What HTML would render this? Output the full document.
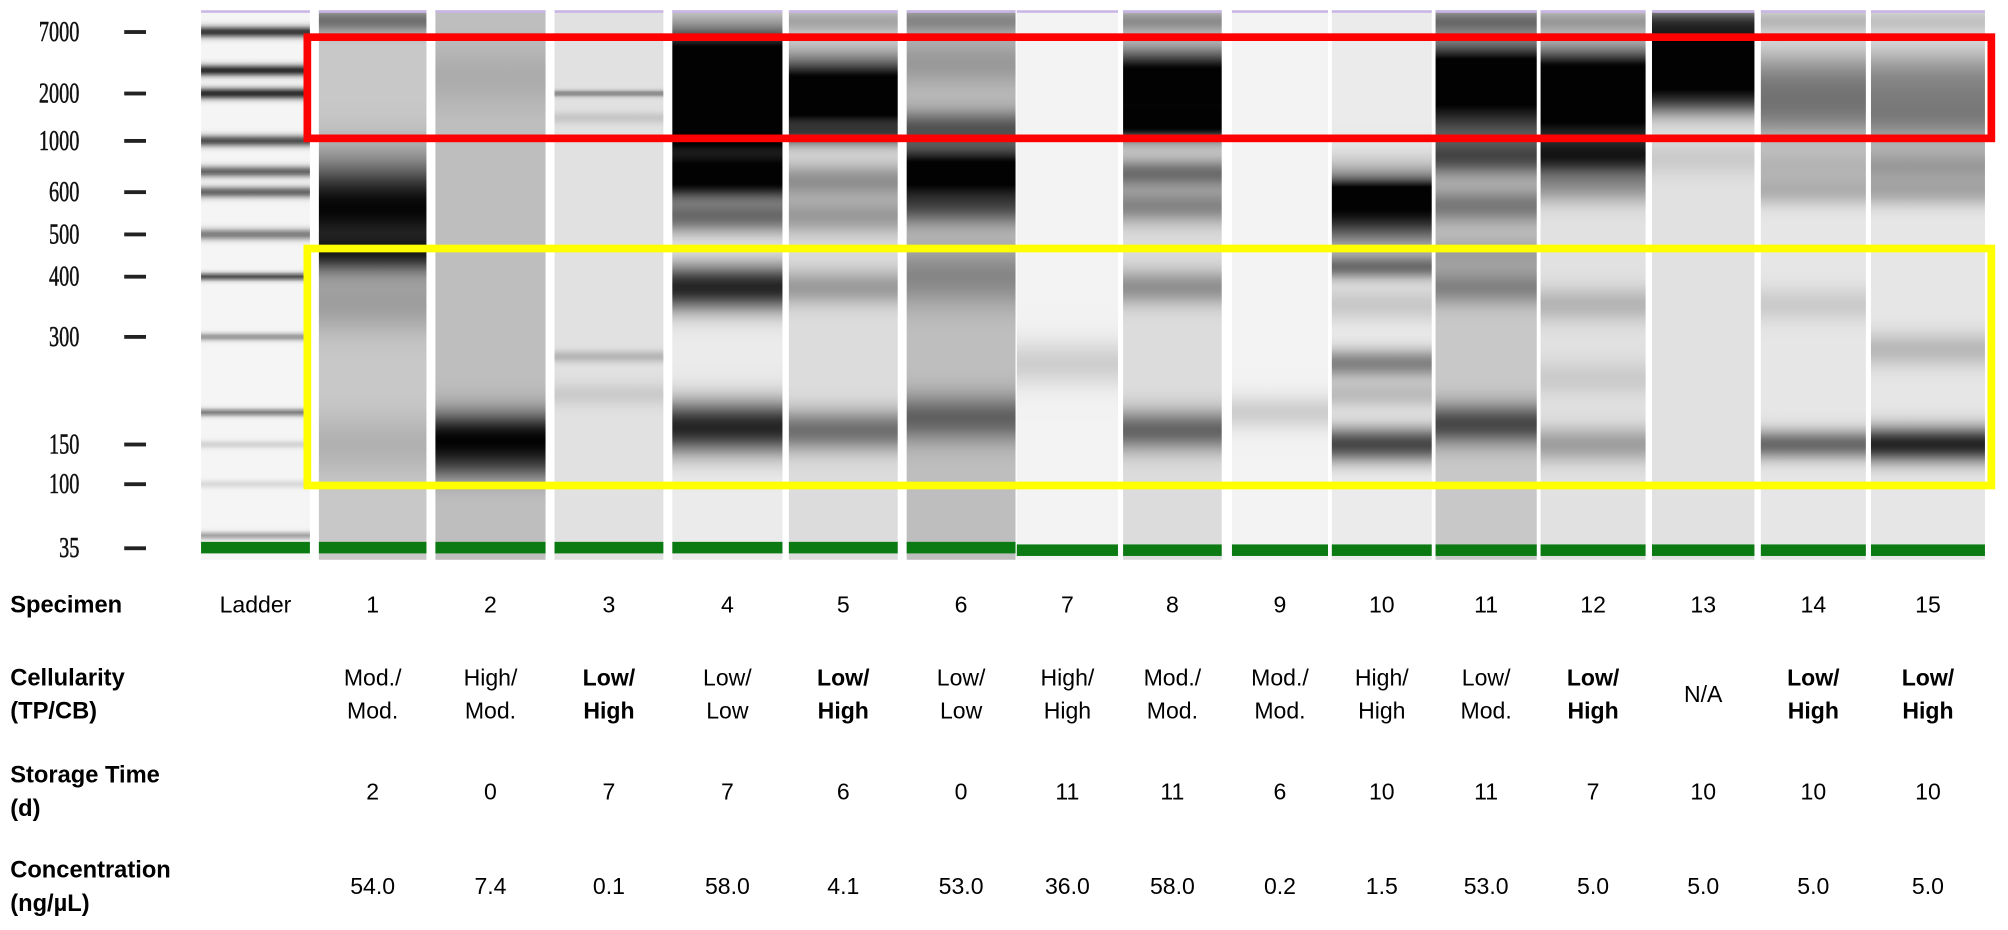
<!DOCTYPE html>
<html><head><meta charset="utf-8"><style>
html,body{margin:0;padding:0;background:#fff;}
svg{display:block;}
.hd{font-family:"Liberation Sans",Arial,sans-serif;font-weight:bold;font-size:18.5px;fill:#000;}
.vl{font-family:"Liberation Sans",Arial,sans-serif;font-size:18px;fill:#000;}
.vb{font-family:"Liberation Sans",Arial,sans-serif;font-size:18px;font-weight:bold;fill:#000;}
.ax{font-family:"Liberation Serif",serif;font-size:22px;fill:#111;stroke:#111;stroke-width:0.4;}
</style></head><body>
<svg id="chart" width="2008" height="930" viewBox="0 0 1568 726" preserveAspectRatio="none" xmlns="http://www.w3.org/2000/svg">
<defs id="defs"></defs>
<g id="axis"></g>
<g id="lanes"></g>
<g id="boxes"></g>
<g id="table"></g>
</svg>
<script>
// ---- data ----
const axisTicks = [7000, 2000, 1000, 600, 500, 400, 300, 150, 100, 35];
const calibBp = [12000, 7000, 3500, 2000, 1000, 800, 600, 500, 400, 300, 200, 150, 100, 50, 35, 20];
const laneNames = ["Ladder","1","2","3","4","5","6","7","8","9","10","11","12","13","14","15"];
const cellTop = ["","Mod./","High/","Low/","Low/","Low/","Low/","High/","Mod./","Mod./","High/","Low/","Low/","N/A","Low/","Low/"];
const cellBot = ["","Mod.","Mod.","High","Low","High","Low","High","Mod.","Mod.","High","Mod.","High","","High","High"];
const cellBold = [0,0,0,1,0,1,0,0,0,0,0,0,1,0,1,1];
const storage = ["","2","0","7","7","6","0","11","11","6","10","11","7","10","10","10"];
const conc = ["","54.0","7.4","0.1","58.0","4.1","53.0","36.0","58.0","0.2","1.5","53.0","5.0","5.0","5.0","5.0"];
const laneBg = [0.0, 0.2, 0.24, 0.1, 0.06, 0.12, 0.24, 0.03, 0.12, 0.03, 0.06, 0.2, 0.1, 0.1, 0.08, 0.08];
// bands: [bp, darkness, spread]
const laneBands = [
 [[7000,.8,3],[3500,.85,3],[2000,.85,3],[1000,.7,3],[800,.6,3],[600,.6,3],[500,.5,3],[400,.7,2],[300,.4,2],[200,.5,2],[150,.15,2],[100,.12,2],[45,.35,2]],
 [[10000,.45,4],[560,.98,16],[450,.5,6],[350,.2,10],[150,.12,10]],
 [[3000,.1,10],[158,.97,9],[120,.3,6]],
 [[2000,.45,1],[1400,.12,2],[270,.2,2],[220,.1,4]],
 [[3800,.98,14],[1950,.98,14],[1200,.98,8],[830,.8,6],[650,.7,5],[540,.55,6],[380,.85,8],[175,.85,9]],
 [[10000,.25,4],[2500,.9,10],[1700,.85,8],[1100,.5,4],[700,.35,6],[540,.3,6],[380,.3,6],[170,.5,7]],
 [[10000,.3,4],[4000,.2,8],[1200,.55,6],[830,.97,7],[650,.5,6],[560,.5,6],[400,.3,10],[190,.5,8]],
 [[260,.15,8]],
 [[10000,.35,4],[3500,.45,8],[2000,.95,12],[1250,.7,5],[780,.5,5],[565,.4,6],[380,.35,6],[170,.55,7]],
 [[200,.15,6]],
 [[600,.4,4],[560,.97,12],[420,.5,4],[350,.15,6],[260,.45,5],[220,.2,5],[150,.7,6]],
 [[10000,.4,4],[3500,.6,8],[1950,.98,16],[880,.5,6],[565,.4,6],[450,.2,6],[380,.35,6],[180,.65,7]],
 [[10000,.3,4],[3000,.9,10],[1500,.97,14],[880,.6,6],[650,.3,6],[350,.2,6],[240,.1,6],[150,.3,6]],
 [[10000,.5,5],[5000,.98,9],[3000,.8,8],[1800,.45,6],[880,.1,6]],
 [[10000,.2,4],[3000,.35,10],[1500,.4,10],[830,.2,7],[600,.2,5],[350,.12,6],[150,.55,5]],
 [[10000,.15,4],[3000,.35,10],[1400,.42,10],[830,.3,6],[600,.25,5],[280,.2,6],[150,.85,6]]
];
// ---- layout ----
const calibY = [12, 25, 55, 73, 110, 134, 150, 183, 216, 263, 322, 347, 378, 414, 428, 440];
const laneX0 = [157,249,340,433,525,616,708,794,877,962,1040,1121,1203,1290,1375,1461];
const laneX1 = [242,333,426,518,611,701,793,873,954,1037,1118,1200,1285,1370,1457,1550];
const gelTop = 8, gelBot = 437;
const NS = "http://www.w3.org/2000/svg";
function yOf(bp){
  const l = Math.log(bp);
  for (let i=0;i<calibBp.length-1;i++){
    const a=Math.log(calibBp[i]), b=Math.log(calibBp[i+1]);
    if (l<=a && l>=b) return calibY[i]+(calibY[i+1]-calibY[i])*(a-l)/(a-b);
  }
  return l>Math.log(calibBp[0]) ? calibY[0] : calibY[calibY.length-1];
}
function mk(tag, attrs, parent){ const e=document.createElementNS(NS,tag); for(const k in attrs) e.setAttribute(k,attrs[k]); parent.appendChild(e); return e; }
const defs=document.getElementById('defs'), axis=document.getElementById('axis'), lanes=document.getElementById('lanes'), boxes=document.getElementById('boxes'), table=document.getElementById('table');
// axis
axisTicks.forEach(t=>{
  const y=yOf(t);
  const tx=mk('text',{x:62,y:y+7,'text-anchor':'end','class':'ax'},axis);
  tx.setAttribute('transform',`translate(${62-62*0.72} 0) scale(0.72 1)`);
  tx.textContent=t;
  
  
  const tk=mk('rect',{x:97,y:y-1.5,width:17,height:3,fill:'#222'},axis);
  
  
});
// lanes
laneNames.forEach((nm,i)=>{
  const g=mk('linearGradient',{id:'lg'+i,gradientUnits:'userSpaceOnUse',x1:0,y1:gelTop,x2:0,y2:gelBot},defs);
  const k = i===0 ? 1 : 1.6;
  for(let y=gelTop;y<=gelBot;y+=2){
    let d = i===0 ? 0.02 : laneBg[i];
    let s=0;
    laneBands[i].forEach(b=>{ const c=yOf(b[0]); const sp=b[2]*k; s+= b[1]*Math.exp(-Math.pow((y-c)/sp,2)/2); });
    d=Math.min(1, d + Math.min(1,s)*(1-d));
    const v=Math.round(250-248*d);
    mk('stop',{offset:((y-gelTop)/(gelBot-gelTop)).toFixed(4),'stop-color':`rgb(${v},${v},${v})`},g);
  }
  const r=mk('rect',{x:laneX0[i],y:gelTop,width:laneX1[i]-laneX0[i],height:gelBot-gelTop,fill:`url(#lg${i})`},lanes);
  
  
  const p=mk('rect',{x:laneX0[i],y:gelTop,width:laneX1[i]-laneX0[i],height:2,fill:'#c9b6e6'},lanes);
  
  
  const gy = i>=7 ? 425 : 423;
  const m=mk('rect',{x:laneX0[i],y:gy,width:laneX1[i]-laneX0[i],height:9,fill:'#0b7a12'},lanes);
  
  
});
// highlight boxes
const rb=mk('rect',{x:240,y:29,width:1315,height:79,fill:'none',stroke:'#ff0000','stroke-width':6},boxes);


const yb=mk('rect',{x:240,y:194,width:1315,height:185,fill:'none',stroke:'#ffff00','stroke-width':6},boxes);


// table
function txt(x,y,s,cls,anchor,name){
  const t=mk('text',{x:x,y:y,'class':cls,'text-anchor':anchor||'middle'},table);
  t.textContent=s;
  
  
  return t;
}
txt(8,478,'Specimen','hd','start','specimen-header');
txt(8,535,'Cellularity','hd','start','cellularity-header');
txt(8,561,'(TP/CB)','hd','start','cellularity-unit');
txt(8,611,'Storage Time','hd','start','storage-header');
txt(8,637,'(d)','hd','start','storage-unit');
txt(8,685,'Concentration','hd','start','concentration-header');
txt(8,711,'(ng/\u00b5L)','hd','start','concentration-unit');
laneNames.forEach((nm,i)=>{
  const cx=(laneX0[i]+laneX1[i])/2;
  txt(cx,478,nm,'vl','middle','specimen-'+nm);
  if(i===0) return;
  const cls=cellBold[i]?'vb':'vl';
  if(cellBot[i]===''){ txt(cx,548,cellTop[i],cls,'middle','cellularity-'+nm); }
  else { txt(cx,535,cellTop[i],cls,'middle','cellularity-top-'+nm); txt(cx,561,cellBot[i],cls,'middle','cellularity-bottom-'+nm); }
  txt(cx,624,storage[i],'vl','middle','storage-'+nm);
  txt(cx,698,conc[i],'vl','middle','concentration-'+nm);
});
</script>
</body></html>
